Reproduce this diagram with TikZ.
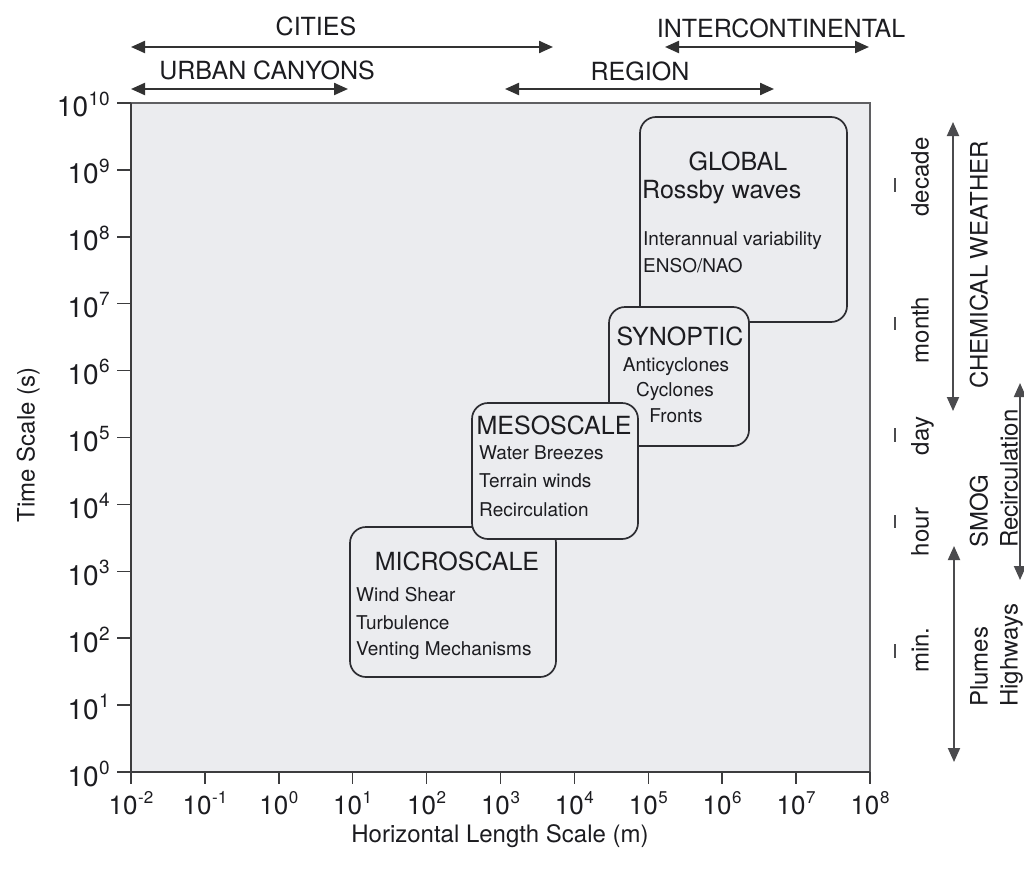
\documentclass[tikz,border=0pt]{standalone}
\usepackage{fontspec}
\setmainfont{TeX Gyre Heros}
\usetikzlibrary{arrows.meta}

\definecolor{plotbg}{RGB}{235,236,239}
\definecolor{framec}{RGB}{95,95,98}
\definecolor{axisc}{RGB}{60,60,62}
\definecolor{boxline}{RGB}{45,45,50}
\definecolor{txt}{RGB}{28,28,32}
\definecolor{spanc}{RGB}{50,50,50}
\definecolor{sidec}{RGB}{75,75,78}

% power of ten with a raised exponent
\newcommand\tpow[2][17]{10\kern0.6pt\raisebox{0.42em}{\fontsize{#1}{#1}\selectfont #2}}

\begin{document}
\begin{tikzpicture}[x=1pt,y=-1pt,
  lbl/.style={inner sep=0pt, text=txt},
  big/.style={lbl, font=\fontsize{25}{30}\selectfont, text height=17.9pt, text depth=0pt},
  small/.style={lbl, font=\fontsize{19}{23}\selectfont, text height=13.6pt, text depth=0pt},
  side/.style={lbl, font=\fontsize{24}{28}\selectfont, text height=17.2pt, text depth=0pt, rotate=90},
  ylabel/.style={lbl, font=\fontsize{28}{32}\selectfont},
  xlabel/.style={lbl, font=\fontsize{26}{30}\selectfont},
  axtitle/.style={lbl, font=\fontsize{24}{28}\selectfont, text height=17.2pt, text depth=0pt},
  scalebox/.style={draw=boxline, line width=1.7pt, rounded corners=16pt, fill=plotbg, inner sep=0pt},
  tickmark/.style={draw=axisc, line width=1.5pt},
  timetick/.style={draw=sidec, line width=1.4pt},
  span/.style={draw=spanc, line width=2.2pt, {Triangle[length=14pt,width=12pt]}-{Triangle[length=14pt,width=12pt]}},
  sidespan/.style={draw=sidec, line width=1.9pt, {Triangle[length=14pt,width=12pt]}-{Triangle[length=14pt,width=12pt]}}
]
\useasboundingbox[fill=white] (0,0) rectangle (1024,872);

% plotting area and its frame
\path[fill=plotbg] (131,103) rectangle (870,772);
\draw[framec, line width=1.4pt] (131,103) -- (870,103) -- (870,772);
\draw[axisc, line width=2.4pt] (131,103) -- (131,772) -- (870,772);

% time axis: decades 10^0 ... 10^10
\foreach \k in {0,...,10}{
  \draw[tickmark] (117,{772-66.9*\k}) -- (131,{772-66.9*\k});
  \node[ylabel, anchor=base east] (ylab\k) at (110,{772-66.9*\k+14}) {\tpow[19]{\k}};
}
% length axis: decades 10^-2 ... 10^8
\foreach \e [count=\i from 0] in {-2,-1,0,1,2,3,4,5,6,7,8}{
  \draw[tickmark] ({131+73.9*\i},772) -- ({131+73.9*\i},784);
  \node[xlabel, anchor=base] (xlab\i) at ({131+73.9*\i},814) {\tpow{\e}};
}

\node[axtitle] (xtitle) at (500,834) {Horizontal Length Scale (m)};
\node[axtitle, rotate=90] (ytitle) at (26,445) {Time Scale (s)};

% spatial ranges above the plot
\coordinate (citiesL) at (131,47);  \coordinate (citiesR) at (553,47);
\coordinate (interL) at (665,47);   \coordinate (interR) at (869,47);
\coordinate (urbanL) at (131,89);   \coordinate (urbanR) at (348,89);
\coordinate (regionL) at (505,89);  \coordinate (regionR) at (774,89);
\draw[span] (citiesL) -- (citiesR);
\draw[span] (interL) -- (interR);
\draw[span] (urbanL) -- (urbanR);
\draw[span] (regionL) -- (regionR);
\node[big] (cities) at (316,27) {CITIES};
\node[big] (inter) at (781,29) {INTERCONTINENTAL};
\node[big] (urban) at (267,71) {URBAN CANYONS};
\node[big] (region) at (640,72) {REGION};

% scale regimes
\node[scalebox, minimum width=207pt, minimum height=205pt] (global) at (743.5,219.5) {};
\node[big] (globalT) at (738,162) {GLOBAL};
\node[big, anchor=west] (globalA) at (642,190) {Rossby waves};
\node[small, anchor=west] (globalB) at (643,239) {Interannual variability};
\node[small, anchor=west] (globalC) at (643,266) {ENSO/NAO};

\node[scalebox, minimum width=140pt, minimum height=139pt] (synoptic) at (679,376.5) {};
\node[big] (synT) at (680,337) {SYNOPTIC};
\node[small] (synA) at (676,365) {Anticyclones};
\node[small] (synB) at (675,390) {Cyclones};
\node[small] (synC) at (676,416) {Fronts};

\node[scalebox, minimum width=206pt, minimum height=150pt] (micro) at (453,602) {};
\node[big] (microT) at (457,562) {MICROSCALE};
\node[small, anchor=west] (microA) at (356,595) {Wind Shear};
\node[small, anchor=west] (microB) at (356,623) {Turbulence};
\node[small, anchor=west] (microC) at (356,649) {Venting Mechanisms};

\node[scalebox, minimum width=166pt, minimum height=136pt] (meso) at (555,471) {};
\node[big] (mesoT) at (554,426) {MESOSCALE};
\node[small, anchor=west] (mesoA) at (479,453) {Water Breezes};
\node[small, anchor=west] (mesoB) at (479,481) {Terrain winds};
\node[small, anchor=west] (mesoC) at (479,510) {Recirculation};

% characteristic times
\draw[timetick] (895,178) -- (895,192);
\draw[timetick] (895,317) -- (895,330);
\draw[timetick] (895,428) -- (895,442);
\draw[timetick] (895,515) -- (895,528);
\draw[timetick] (895,644) -- (895,658);
\node[side] (decade) at (920,177) {decade};
\node[side] (month) at (920,330) {month};
\node[side] (day) at (920,436) {day};
\node[side] (hour) at (920,532) {hour};
\node[side] (minute) at (920,650) {min.};

% air quality phenomena
\coordinate (chemT) at (953,122); \coordinate (chemB) at (953,411);
\coordinate (smogT) at (1020,383); \coordinate (smogB) at (1020,580);
\coordinate (plumeT) at (954,546); \coordinate (plumeB) at (954,762);
\draw[sidespan] (chemT) -- (chemB);
\draw[sidespan] (smogT) -- (smogB);
\draw[sidespan] (plumeT) -- (plumeB);
\node[side] (chem) at (979,265) {CHEMICAL WEATHER};
\node[side, anchor=west] (smog) at (979,548) {SMOG};
\node[side, anchor=west] (recirc) at (1009,548) {Recirculation};
\node[side, anchor=west] (plumes) at (979,707) {Plumes};
\node[side, anchor=west] (highways) at (1009,707) {Highways};
\end{tikzpicture}
\end{document}
